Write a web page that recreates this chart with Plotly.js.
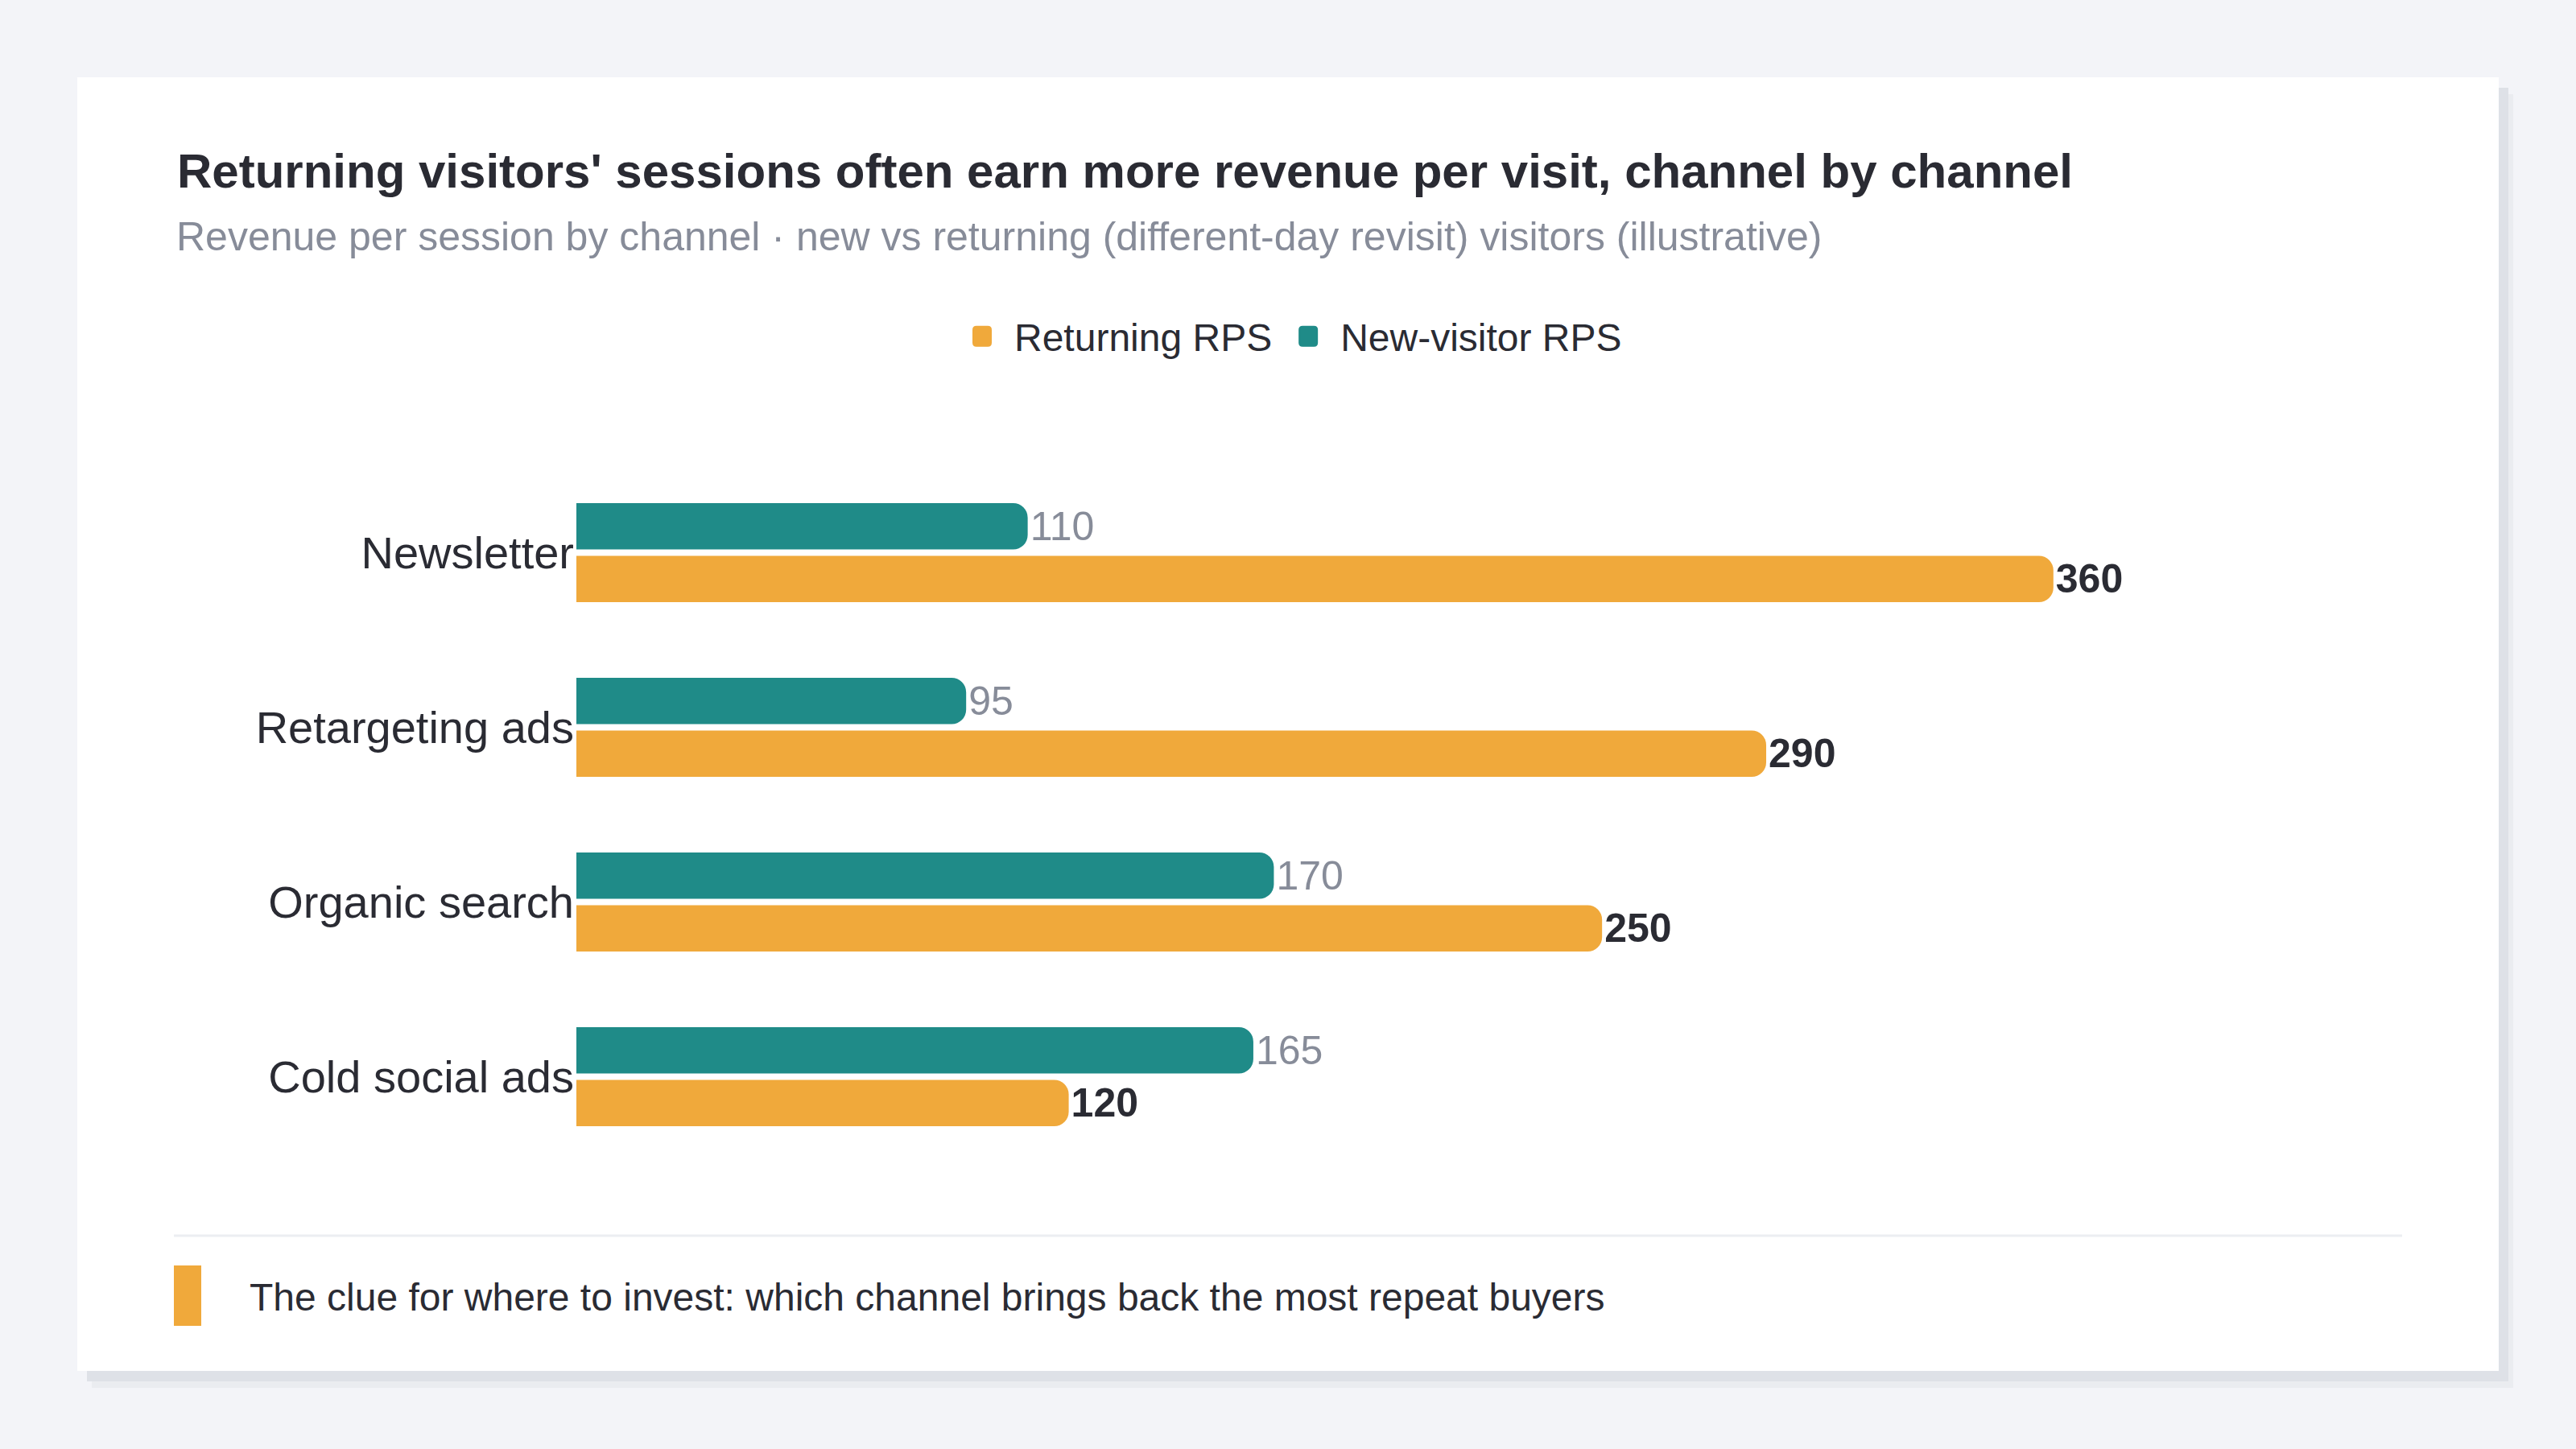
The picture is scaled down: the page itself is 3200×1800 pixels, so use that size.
<!DOCTYPE html>
<html><head><meta charset="utf-8">
<script src="https://cdn.plot.ly/plotly-3.0.1.min.js"></script>
<style>
html,body{margin:0;padding:0;background:#f3f4f8;width:3200px;height:1800px;overflow:hidden;}
#card{position:absolute;left:96px;top:96px;width:3008px;height:1607px;background:#ffffff;box-shadow:12px 13px 0 #dee1e7, 18px 21px 0 #eaecf0;}
#chart{position:absolute;left:0;top:0;width:3200px;height:1800px;}
</style></head><body>
<div id="card"></div><div id="chart"></div>
<script>
// ---- data ----
const channels = ['Newsletter', 'Retargeting ads', 'Organic search', 'Cold social ads'];
const returningRPS = [360, 290, 250, 120];
const newVisitorRPS = [110, 95, 170, 165];
const seriesNames = ['Returning RPS', 'New-visitor RPS'];
const titleText = "Returning visitors' sessions often earn more revenue per visit, channel by channel";
const subtitleText = 'Revenue per session by channel · new vs returning (different-day revisit) visitors (illustrative)';
const footerText = 'The clue for where to invest: which channel brings back the most repeat buyers';

// ---- styling ----
const ORANGE = '#f0a93b', TEAL = '#1f8b88', INK = '#2a2b33', GREY = '#878c99';
const FONT = 'Liberation Sans, Arial, Helvetica, sans-serif';
const W = 3200, H = 1800;
const L = 716, R = 2984, T = 578, B = 1446;
const px2x = p => (p - L) / (R - L);
const py2y = p => (B - p) / (B - T);

const traces = [
  {
    type: 'bar', orientation: 'h', name: seriesNames[0],
    y: channels, x: returningRPS,
    marker: {color: ORANGE, cornerradius: 18, line: {width: 0}},
    texttemplate: '%{x}', textposition: 'outside', constraintext: 'none', cliponaxis: false,
    outsidetextfont: {family: FONT, size: 50, color: INK, weight: 700},
    hoverinfo: 'skip'
  },
  {
    type: 'bar', orientation: 'h', name: seriesNames[1],
    y: channels, x: newVisitorRPS,
    marker: {color: TEAL, cornerradius: 18, line: {width: 0}},
    texttemplate: '%{x}', textposition: 'outside', constraintext: 'none', cliponaxis: false,
    outsidetextfont: {family: FONT, size: 50, color: GREY, weight: 400},
    hoverinfo: 'skip'
  }
];

const layout = {
  width: W, height: H, autosize: false,
  paper_bgcolor: 'rgba(0,0,0,0)', plot_bgcolor: 'rgba(0,0,0,0)',
  margin: {l: L, r: W - R, t: T, b: H - B, pad: 0},
  font: {family: FONT, color: INK},
  barmode: 'group', bargap: 0.396, bargroupgap: 0.122,
  title: {
    text: titleText, xref: 'container', yref: 'container',
    x: 220 / W, xanchor: 'left', y: 1 - 212 / H, yanchor: 'middle',
    font: {family: FONT, size: 60, color: INK, weight: 700}
  },
  xaxis: {range: [0, 445], visible: false, fixedrange: true},
  yaxis: {
    type: 'category', categoryorder: 'array', categoryarray: channels.slice().reverse(),
    showgrid: false, zeroline: false, showline: false, ticks: '',
    tickfont: {family: FONT, size: 56, color: INK}, ticklabelstandoff: 2, fixedrange: true
  },
  showlegend: true,
  legend: {
    orientation: 'h', xref: 'container', yref: 'container',
    x: 0.5, xanchor: 'center', y: 1 - 418 / H, yanchor: 'middle',
    font: {family: FONT, size: 48, color: INK}, itemwidth: 70,
    bgcolor: 'rgba(0,0,0,0)', traceorder: 'normal', itemclick: false, itemdoubleclick: false
  },
  annotations: [
    {text: subtitleText, xref: 'paper', yref: 'paper', x: px2x(217), y: py2y(294),
     xanchor: 'left', yanchor: 'middle', showarrow: false,
     font: {family: FONT, size: 50, color: GREY}},
    {text: footerText, xref: 'paper', yref: 'paper', x: px2x(308), y: py2y(1611),
     xanchor: 'left', yanchor: 'middle', showarrow: false,
     font: {family: FONT, size: 48, color: INK}}
  ],
  shapes: [
    {type: 'line', xref: 'paper', yref: 'paper', x0: px2x(216), x1: px2x(2984),
     y0: py2y(1535), y1: py2y(1535), line: {color: '#eceef2', width: 3}},
    {type: 'rect', xref: 'paper', yref: 'paper', x0: px2x(216), x1: px2x(250),
     y0: py2y(1647), y1: py2y(1572), fillcolor: ORANGE, line: {width: 0}}
  ]
};

function fixLegendIcons() {
  const gd = document.getElementById('chart');
  const d = 'M-7,-13H7Q12,-13 12,-8V8Q12,13 7,13H-7Q-12,13 -12,8V-8Q-12,-13 -7,-13Z';
  gd.querySelectorAll('.legend .legendpoints path').forEach(p => {
    p.setAttribute('d', d);
    p.style.strokeWidth = '0px';
  });
}

Plotly.newPlot('chart', traces, layout, {displayModeBar: false, staticPlot: true, responsive: false}).then(() => {
  fixLegendIcons();
  setTimeout(fixLegendIcons, 50);
  setTimeout(fixLegendIcons, 300);
});
</script>
</body></html>
